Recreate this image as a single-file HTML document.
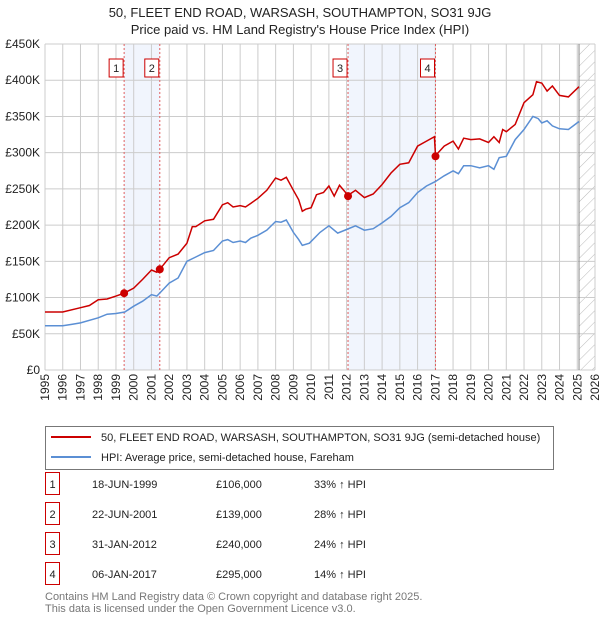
<!DOCTYPE html>
<html><head><meta charset="utf-8"><style>
body{margin:0;background:#fff;font-family:"Liberation Sans","DejaVu Sans",sans-serif;}
#wrap{position:relative;width:600px;height:620px;overflow:hidden}
svg{position:absolute;left:0;top:0}
</style></head><body><div id="wrap">
<svg id="s" width="600" height="620"></svg>
</div>
<script>
const hpiYears=[1995,1996,1996.5,1997,1998,1998.5,1999,1999.5,2000,2000.5,2001,2001.3,2001.5,2002,2002.5,2003,2003.5,2004,2004.5,2005,2005.3,2005.6,2006,2006.3,2006.6,2007,2007.5,2008,2008.3,2008.6,2009,2009.3,2009.5,2009.9,2010.5,2011,2011.5,2012,2012.5,2013,2013.5,2014,2014.5,2015,2015.5,2016,2016.5,2017,2017.5,2018,2018.3,2018.6,2019,2019.5,2020,2020.3,2020.6,2021,2021.5,2022,2022.5,2022.8,2023,2023.3,2023.6,2024,2024.5,2025.1];
const hpiValues=[61,61,63,65,72,77,78,80,88,95,104,102,107,120,127,150,156,162,165,178,180,176,178,176,182,186,193,205,204,207,190,180,172,175,190,199,189,194,199,193,195,203,212,224,231,245,254,260,268,275,271,282,282,279,282,277,293,295,318,332,350,347,341,344,337,333,332,343];
const priceYears=[1995,1996,1997,1997.5,1998,1998.5,1999,1999.46,2000,2000.5,2001,2001.3,2001.47,2002,2002.5,2003,2003.3,2003.5,2004,2004.5,2005,2005.3,2005.6,2006,2006.3,2006.6,2007,2007.5,2008,2008.3,2008.6,2009,2009.3,2009.5,2009.7,2010,2010.3,2010.7,2011,2011.3,2011.6,2012.08,2012.5,2013,2013.5,2014,2014.5,2015,2015.5,2016,2016.5,2016.95,2017.01,2017.5,2018,2018.3,2018.6,2019,2019.5,2020,2020.3,2020.6,2020.8,2021,2021.5,2022,2022.5,2022.7,2023,2023.3,2023.6,2024,2024.5,2025.1];
const priceValues=[80,80,86,89,97,98,102,106,113,125,138,135,139,155,160,175,198,198,206,208,228,231,225,227,225,230,237,248,265,262,266,248,235,219,222,224,242,245,254,240,255,241,248,238,243,256,272,284,286,309,316,322,296,309,316,305,320,318,319,314,322,314,332,329,339,369,380,398,396,385,392,379,377,391];
const saleYears=[1999.46,2001.47,2012.08,2017.01];
const saleValues=[106,139,240,295];
const saleLabels=["1","2","3","4"];
const saleDates=["18-JUN-1999","22-JUN-2001","31-JAN-2012","06-JAN-2017"];
const salePrices=["£106,000","£139,000","£240,000","£295,000"];
const saleHpi=["33% ↑ HPI","28% ↑ HPI","24% ↑ HPI","14% ↑ HPI"];
const yTicks=[0,50,100,150,200,250,300,350,400,450];
const yTickLabels=["£0","£50K","£100K","£150K","£200K","£250K","£300K","£350K","£400K","£450K"];

const L=45,R=595,T=44,B=370,Y0=1995,Y1=2026,VMAX=450;
const X=y=>L+(y-Y0)/(Y1-Y0)*(R-L);
const Yv=v=>B-v/VMAX*(B-T);
const s=document.getElementById('s');
const NS='http://www.w3.org/2000/svg';
function mk(tag,at,txt){const e=document.createElementNS(NS,tag);for(const k in at)e.setAttribute(k,at[k]);if(txt!=null)e.textContent=txt;s.appendChild(e);return e;}

let e;
e=mk('text',{x:300,y:17,'text-anchor':'middle','font-size':13,fill:'#222'},'50, FLEET END ROAD, WARSASH, SOUTHAMPTON, SO31 9JG');


e=mk('text',{x:300,y:34,'text-anchor':'middle','font-size':13,fill:'#222'},"Price paid vs. HM Land Registry's House Price Index (HPI)");



// shaded spans
for(let i=0;i<4;i+=2){
 e=mk('rect',{x:X(saleYears[i]),y:T,width:X(saleYears[i+1])-X(saleYears[i]),height:B-T,fill:'#eef3fc',opacity:0.8});
 
 
}
// hatch
const defs=mk('defs',{});
const pat=document.createElementNS(NS,'pattern');
pat.setAttribute('id','h');pat.setAttribute('width',8);pat.setAttribute('height',8);pat.setAttribute('patternUnits','userSpaceOnUse');pat.setAttribute('patternTransform','rotate(45)');
const pl=document.createElementNS(NS,'line');pl.setAttribute('x1',0);pl.setAttribute('y1',0);pl.setAttribute('x2',0);pl.setAttribute('y2',8);pl.setAttribute('stroke','#bbb');pl.setAttribute('stroke-width',1);
pat.appendChild(pl);defs.appendChild(pat);
e=mk('rect',{x:X(2025.1),y:T,width:R-X(2025.1),height:B-T,fill:'url(#h)'});



// grid
for(let y=Y0;y<=Y1;y++){
 e=mk('line',{x1:X(y),x2:X(y),y1:T,y2:B,stroke:'#ccc','stroke-width':1});
 
 
 e=mk('text',{transform:`translate(${X(y)+4},${B+4}) rotate(-90)`,'text-anchor':'end','font-size':12,fill:'#222'},String(y));
 
 
}
yTicks.forEach((v,i)=>{
 e=mk('line',{x1:L,x2:R,y1:Yv(v),y2:Yv(v),stroke:'#ccc','stroke-width':1});
 
 
 e=mk('text',{x:40,y:Yv(v)+4,'text-anchor':'end','font-size':12,fill:'#222'},yTickLabels[i]);
 
 
});
e=mk('line',{x1:X(2025.1),x2:X(2025.1),y1:T,y2:B,stroke:'#888','stroke-width':1});



// sale vlines
saleYears.forEach((y,i)=>{
 e=mk('line',{x1:X(y),x2:X(y),y1:T,y2:B,stroke:'#e06060','stroke-width':1,'stroke-dasharray':'2,2'});
 
 
 e=mk('rect',{x:X(y)-15,y:59,width:14,height:18,fill:'#fff',stroke:'#c00','stroke-width':1});
 
 
 e=mk('text',{x:X(y)-8,y:72,'text-anchor':'middle','font-size':11,fill:'#222'},saleLabels[i]);
 
 
});

function path(xs,vs){return xs.map((y,i)=>(i?'L':'M')+X(y).toFixed(1)+','+Yv(vs[i]).toFixed(1)).join('');}
e=mk('path',{d:path(hpiYears,hpiValues),fill:'none',stroke:'#5b8fd4','stroke-width':1.5});


e=mk('path',{d:path(priceYears,priceValues),fill:'none',stroke:'#cc0000','stroke-width':1.5});


saleYears.forEach((y,i)=>{
 e=mk('circle',{cx:X(y),cy:Yv(saleValues[i]),r:4,fill:'#cc0000'});
 
 
});

// legend
e=mk('rect',{x:45.5,y:426.5,width:508,height:43,fill:'#fff',stroke:'#777','stroke-width':1});


e=mk('line',{x1:51,x2:91,y1:437,y2:437,stroke:'#cc0000','stroke-width':2});


e=mk('text',{x:101,y:441,'font-size':11,fill:'#222'},'50, FLEET END ROAD, WARSASH, SOUTHAMPTON, SO31 9JG (semi-detached house)');


e=mk('line',{x1:51,x2:91,y1:457,y2:457,stroke:'#5b8fd4','stroke-width':2});


e=mk('text',{x:101,y:461,'font-size':11,fill:'#222'},'HPI: Average price, semi-detached house, Fareham');



// table
saleLabels.forEach((l,i)=>{
 const cy=484+i*30;
 e=mk('rect',{x:45.5,y:cy-11.5,width:14,height:22,fill:'#fff',stroke:'#c00','stroke-width':1});
 
 
 e=mk('text',{x:52.5,y:cy+4,'text-anchor':'middle','font-size':11,fill:'#222'},l);
 
 
 e=mk('text',{x:92,y:cy+4,'font-size':11,fill:'#222'},saleDates[i]);
 
 
 e=mk('text',{x:216,y:cy+4,'font-size':11,fill:'#222'},salePrices[i]);
 
 
 e=mk('text',{x:314,y:cy+4,'font-size':11,fill:'#222'},saleHpi[i]);
 
 
});
e=mk('text',{x:45,y:600,'font-size':11,fill:'#777'},'Contains HM Land Registry data © Crown copyright and database right 2025.');


e=mk('text',{x:45,y:612,'font-size':11,fill:'#777'},'This data is licensed under the Open Government Licence v3.0.');


</script></body></html>
